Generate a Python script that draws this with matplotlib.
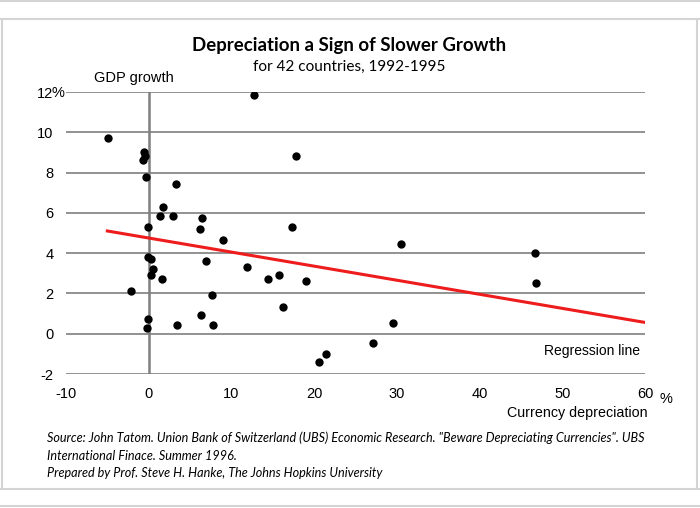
import matplotlib.pyplot as plt
import numpy as np
from matplotlib.lines import Line2D

plt.rcParams['axes.unicode_minus'] = False

# data: currency depreciation (%) vs GDP growth (%)
depreciation = [-4.9, -0.57, -0.5, -0.7, -0.36, 3.26, 1.73, 1.41, 2.9, -0.04,
                6.45, 6.2, 9.03, -0.04, 0.28, 0.57, 0.28, 1.65, 6.97, 11.85,
                14.4, 15.7, 19.0, 17.3, 17.85, 12.7, -2.2, 7.7, 16.2, 6.3,
                -0.04, -0.2, 3.47, 7.78, 30.5, 46.7, 46.8, 29.5, 27.1, 21.4,
                20.6]
gdp_growth = [9.72, 9.04, 8.83, 8.63, 7.8, 7.42, 6.3, 5.83, 5.83, 5.32,
              5.73, 5.2, 4.63, 3.83, 3.7, 3.2, 2.92, 2.73, 3.62, 3.3,
              2.73, 2.92, 2.63, 5.32, 8.83, 11.83, 2.12, 1.9, 1.32, 0.93,
              0.71, 0.3, 0.41, 0.41, 4.43, 4.02, 2.53, 0.51, -0.48, -0.99,
              -1.4]
reg_x = [-5, 60]
reg_y = [5.1, 0.56]

x_ticks = [-10, 0, 10, 20, 30, 40, 50, 60]
y_ticks = [-2, 0, 2, 4, 6, 8, 10, 12]

W, H = 700, 508
fig = plt.figure(figsize=(W / 100, H / 100), dpi=100)
ax = fig.add_axes([66 / W, 1 - 374 / H, (645 - 66) / W, (374 - 92) / H])

for y in y_ticks:
    ax.axhline(y, color='#7f7f7f', lw=1.2, zorder=1)
ax.plot([0, 0], [-2, 12], color='#7f7f7f', lw=1.8, zorder=1)
ax.plot(reg_x, reg_y, color='#ee1c1c', lw=2.2, zorder=2)
ax.scatter(depreciation, gdp_growth, s=36, color='black', zorder=3, linewidths=0)

ax.set_xlim(-10, 60)
ax.set_ylim(-2, 12)
ax.set_xticks(x_ticks)
ax.set_yticks(y_ticks)
ax.set_yticklabels([str(v) for v in y_ticks])
ax.set_xticklabels([str(v) for v in x_ticks])
for s in ax.spines.values():
    s.set_visible(False)
ax.tick_params(length=0, labelsize=10.5, colors='black')
ax.tick_params(axis='y', pad=9)
ax.tick_params(axis='x', pad=9)
for lab in ax.get_xticklabels() + ax.get_yticklabels():
    lab.set_fontfamily('Liberation Sans')

sans = 'Liberation Sans'
cal = 'Lato'
fig.text(52 / W, 1 - 93 / H, '%', fontsize=10.5, family=sans, va='center', ha='left')
fig.text(660 / W, 1 - 399 / H, '%', fontsize=10.5, family=sans, va='center', ha='left')
fig.text(134 / W, 1 - 78 / H, 'GDP growth', fontsize=10.5, family=sans, ha='center', va='center')
fig.text(640 / W, 1 - 351 / H, 'Regression line', fontsize=10, family=sans, ha='right', va='center')
fig.text(648 / W, 1 - 413 / H, 'Currency depreciation', fontsize=10.3, family=sans, ha='right', va='center')

fig.text(349 / W, 1 - 45 / H, 'Depreciation a Sign of Slower Growth', fontsize=13.4,
         family=cal, weight='bold', ha='center', va='center')
fig.text(349 / W, 1 - 67 / H, 'for 42 countries, 1992-1995', fontsize=11.1,
         family=cal, ha='center', va='center')

src = ['Source: John Tatom. Union Bank of Switzerland (UBS) Economic Research. "Beware Depreciating Currencies". UBS',
       'International Finace. Summer 1996.',
       'Prepared by Prof. Steve H. Hanke, The Johns Hopkins University']
for i, line in enumerate(src):
    fig.text(47 / W, 1 - (438 + 17.5 * i) / H, line, fontsize=9.1, family=cal,
             style='italic', ha='left', va='center')

# light frame around the picture
frame = '#d4d4d4'
for y in [1, 19, 489, 506]:
    fig.add_artist(Line2D([0, 1], [1 - y / H, 1 - y / H], color=frame, lw=1.5))
fig.add_artist(Line2D([2 / W, 2 / W], [1 - 489 / H, 1 - 19 / H], color=frame, lw=1.5))
fig.add_artist(Line2D([697 / W, 697 / W], [1 - 489 / H, 1 - 19 / H], color=frame, lw=1.5))

fig.savefig('out.png', dpi=100)
